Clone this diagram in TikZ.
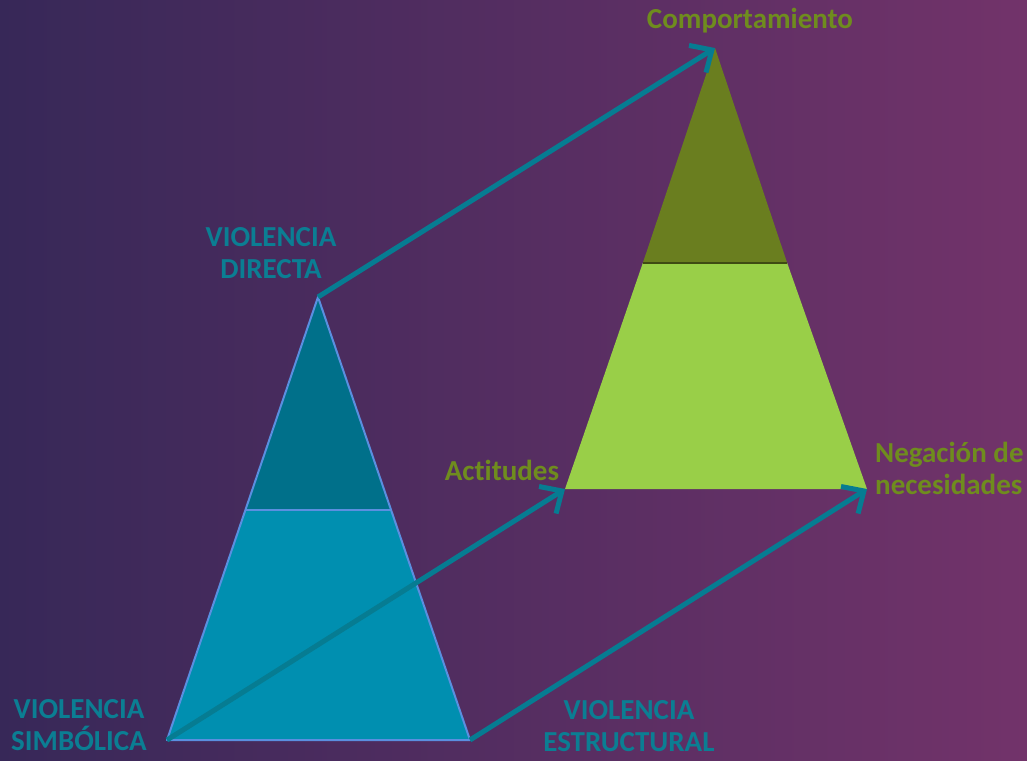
\documentclass[tikz,border=0pt]{standalone}
\usepackage{fontspec}
\setmainfont[Ligatures={NoCommon}]{Carlito}
\usetikzlibrary{arrows.meta}
\definecolor{bgL}{HTML}{372858}
\definecolor{bgR}{HTML}{72336A}
\definecolor{tealA}{HTML}{00708A}
\definecolor{tealB}{HTML}{008FB0}
\definecolor{edgeB}{HTML}{5A8FE0}
\definecolor{oliveA}{HTML}{6A7E1F}
\definecolor{greenB}{HTML}{99CF48}
\definecolor{arrowC}{HTML}{067C92}
\definecolor{lblTeal}{HTML}{0B7E93}
\definecolor{lblOlive}{HTML}{6F8C1E}
\tikzset{
  conn/.style={draw=arrowC, line width=5pt, -{Straight Barb[length=17pt,width=32pt,line width=5pt]}},
  tlabel/.style={text=lblTeal, font=\fontsize{29}{32}\selectfont\bfseries, align=center, inner sep=0pt},
  olabel/.style={text=lblOlive, font=\fontsize{29}{32}\selectfont\bfseries, inner sep=0pt},
}
\begin{document}
\begin{tikzpicture}[x=1pt,y=-1pt]
\useasboundingbox (0,0) rectangle (1027,760);
\shade[left color=bgL, right color=bgR] (0,0) rectangle (1027,760);
% left triangle
\coordinate (LA) at (318,297);
\coordinate (LL) at (167,740);
\coordinate (LR) at (470,740);
\coordinate (LDL) at (245.4,510);
\coordinate (LDR) at (390.6,510);
\fill[tealB] (LDL) -- (LDR) -- (LR) -- (LL) -- cycle;
\fill[tealA] (LA) -- (LDR) -- (LDL) -- cycle;
\draw[edgeB, line width=2pt, line join=round] (LA) -- (LR) -- (LL) -- cycle;
\draw[edgeB, line width=2pt] (LDL) -- (LDR);
% right triangle
\coordinate (RA) at (715,48);
\coordinate (RL) at (565,489);
\coordinate (RR) at (867,489);
\coordinate (RDL) at (642.8,263);
\coordinate (RDR) at (787.2,263);
\fill[greenB] (RDL) -- (RDR) -- (RR) -- (RL) -- cycle;
\fill[oliveA] (RA) -- (RDR) -- (RDL) -- cycle;
\draw[black!40!oliveA, line width=2pt] (RDL) -- (RDR);
% connectors
\draw[conn] (LA) -- (RA);
\draw[conn] (LL) -- (RL);
\draw[conn] (LR) -- (RR);
% labels
\node[olabel] (comp) at (750,21) {Comportamiento};
\node[tlabel] (vd) at (271,253) {VIOLENCIA\\DIRECTA};
\node[olabel] (act) at (502,470) {Actitudes};
\node[olabel, align=left, anchor=west] (neg) at (875,468) {Negación de\\necesidades};
\node[tlabel] (vs) at (79,725) {VIOLENCIA\\SIMBÓLICA};
\node[tlabel, anchor=south] (ve) at (629,752) {VIOLENCIA\\ESTRUCTURAL};
\end{tikzpicture}
\end{document}
